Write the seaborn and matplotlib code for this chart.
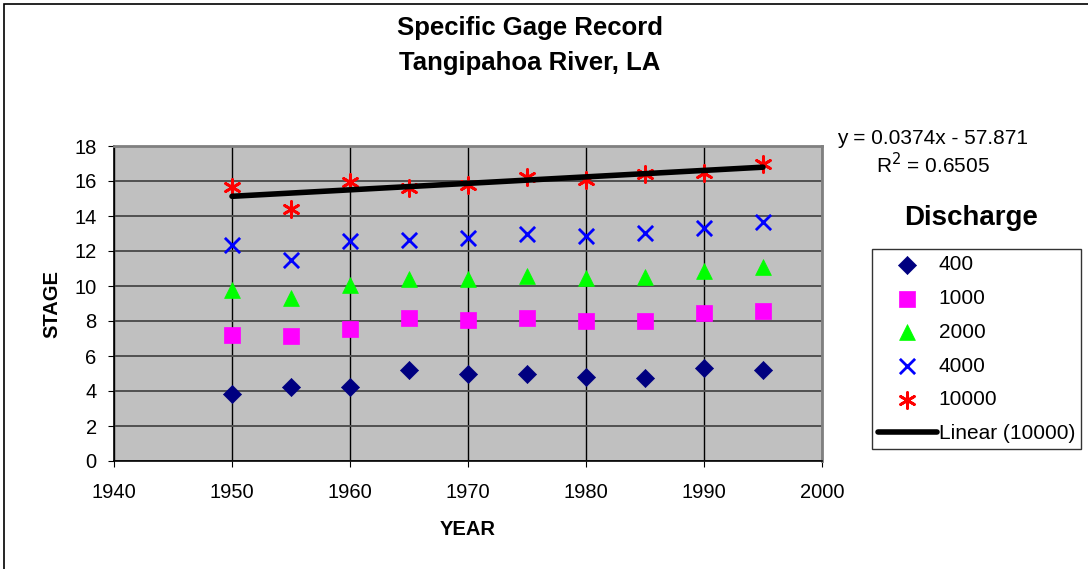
import pandas as pd
import matplotlib.pyplot as plt
import matplotlib.ticker as mticker
from matplotlib.patches import Rectangle
import seaborn as sns

# ── Dados ────────────────────────────────────────────────────────────────────
anos = [1950, 1955, 1960, 1965, 1970, 1975, 1980, 1985, 1990, 1995]
q400 = [3.85, 4.25, 4.25, 5.2, 4.95, 4.95, 4.78, 4.72, 5.3, 5.2]
q1000 = [7.2, 7.14, 7.56, 8.15, 8.06, 8.19, 8.02, 8.02, 8.48, 8.57]
q2000 = [9.77, 9.3, 10.08, 10.38, 10.38, 10.6, 10.46, 10.53, 10.88, 11.1]
q4000 = [12.34, 11.49, 12.59, 12.65, 12.76, 13.0, 12.86, 13.05, 13.3, 13.66]
q10000 = [15.68, 14.38, 15.97, 15.58, 15.8, 16.25, 16.06, 16.38, 16.48, 17.0]
vazoes = ["400", "1000", "2000", "4000", "10000"]
eq_texto = "y = 0.0374x - 57.871"
r2_texto = "R$^2$ = 0.6505"

series = dict(zip(vazoes, [q400, q1000, q2000, q4000, q10000]))
cores = {"400": "#000080", "1000": "#FF00FF", "2000": "#00FF00",
         "4000": "#0000FF", "10000": "#FF0000"}
marcadores = {"400": "D", "1000": "s", "2000": "^", "4000": "x", "10000": (6, 2, 0)}
tamanhos = {"400": 85, "1000": 130, "2000": 130, "4000": 120, "10000": 130}

sns.set_style("white")
plt.rcParams["font.family"] = ["Liberation Sans", "DejaVu Sans"]
plt.rcParams.update({"text.color": "black", "axes.labelcolor": "black",
                     "xtick.color": "black", "ytick.color": "black"})

fig = plt.figure(figsize=(10.88, 5.69), dpi=100)
ax = fig.add_axes([114/1088, 1 - 461/569, (822-114)/1088, (461-146)/569])
ax.set_facecolor("#C0C0C0")

for v in vazoes:
    df = pd.DataFrame({"ano": anos, "stage": series[v]})
    linha = marcadores[v] in ("x", (6, 2, 0))
    kw = dict(linewidth=2.0, color=cores[v]) if linha else dict(color=cores[v], edgecolor=cores[v], linewidth=0.5)
    sns.scatterplot(data=df, x="ano", y="stage", marker=marcadores[v], s=tamanhos[v],
                    ax=ax, label=v, zorder=3, **kw)

# tendência linear da série 10000
df10 = pd.DataFrame({"ano": anos, "stage": q10000})
sns.regplot(data=df10, x="ano", y="stage", scatter=False, ci=None, ax=ax,
            color="black", line_kws={"linewidth": 4, "zorder": 4})
ax.lines[-1].set_label("Linear (10000)")
if ax.get_legend() is not None:
    ax.get_legend().remove()

ax.set_xlim(1940, 2000)
ax.set_ylim(0, 18)
ax.xaxis.set_major_locator(mticker.MultipleLocator(10))
ax.yaxis.set_major_locator(mticker.MultipleLocator(2))
ax.grid(True, axis="y", color="#505050", linewidth=1.4, zorder=0)
ax.grid(True, axis="x", color="black", linewidth=1.0, zorder=0)
ax.set_axisbelow(True)
for lado in ("top", "right"):
    ax.spines[lado].set_color("#808080")
    ax.spines[lado].set_linewidth(2)
for lado in ("left", "bottom"):
    ax.spines[lado].set_color("black")
    ax.spines[lado].set_linewidth(1.2)
ax.tick_params(axis="both", labelsize=14.5, length=4.5, color="black", direction="out",
               bottom=True, left=True)
ax.tick_params(axis="x", pad=11)
ax.tick_params(axis="y", pad=8)
ax.set_xlabel("YEAR", fontsize=14.5, fontweight="bold", labelpad=13)
ax.set_ylabel("STAGE", fontsize=14.5, fontweight="bold", labelpad=9)

fig.text(530/1088, 1 - 35/569, "Specific Gage Record", ha="center", va="baseline",
         fontsize=18.5, fontweight="bold")
fig.text(530/1088, 1 - 70/569, "Tangipahoa River, LA", ha="center", va="baseline",
         fontsize=18.5, fontweight="bold")
fig.text(933/1088, 1 - 144/569, eq_texto, ha="center", va="baseline", fontsize=15)
fig.text(933/1088, 1 - 173/569, r2_texto, ha="center", va="baseline", fontsize=15)
fig.text(971/1088, 1 - 225/569, "Discharge", ha="center", va="baseline",
         fontsize=20, fontweight="bold")

handles, labels = ax.get_legend_handles_labels()
leg = fig.legend(handles, labels, loc="upper left", bbox_to_anchor=(872/1088, 1 - 249/569),
                 fontsize=15, frameon=True, fancybox=False, edgecolor="black",
                 handlelength=2.8, handletextpad=0.1, labelspacing=0.71,
                 borderpad=0.3, borderaxespad=0)
leg.get_frame().set_linewidth(1.0)

# moldura do gráfico
fig.patches.append(Rectangle((4/1088, -0.1), 1.2, 1 - 4/569 + 0.1, transform=fig.transFigure,
                             fill=False, edgecolor="black", linewidth=1.2))

plt.savefig("out.png", dpi=100)
